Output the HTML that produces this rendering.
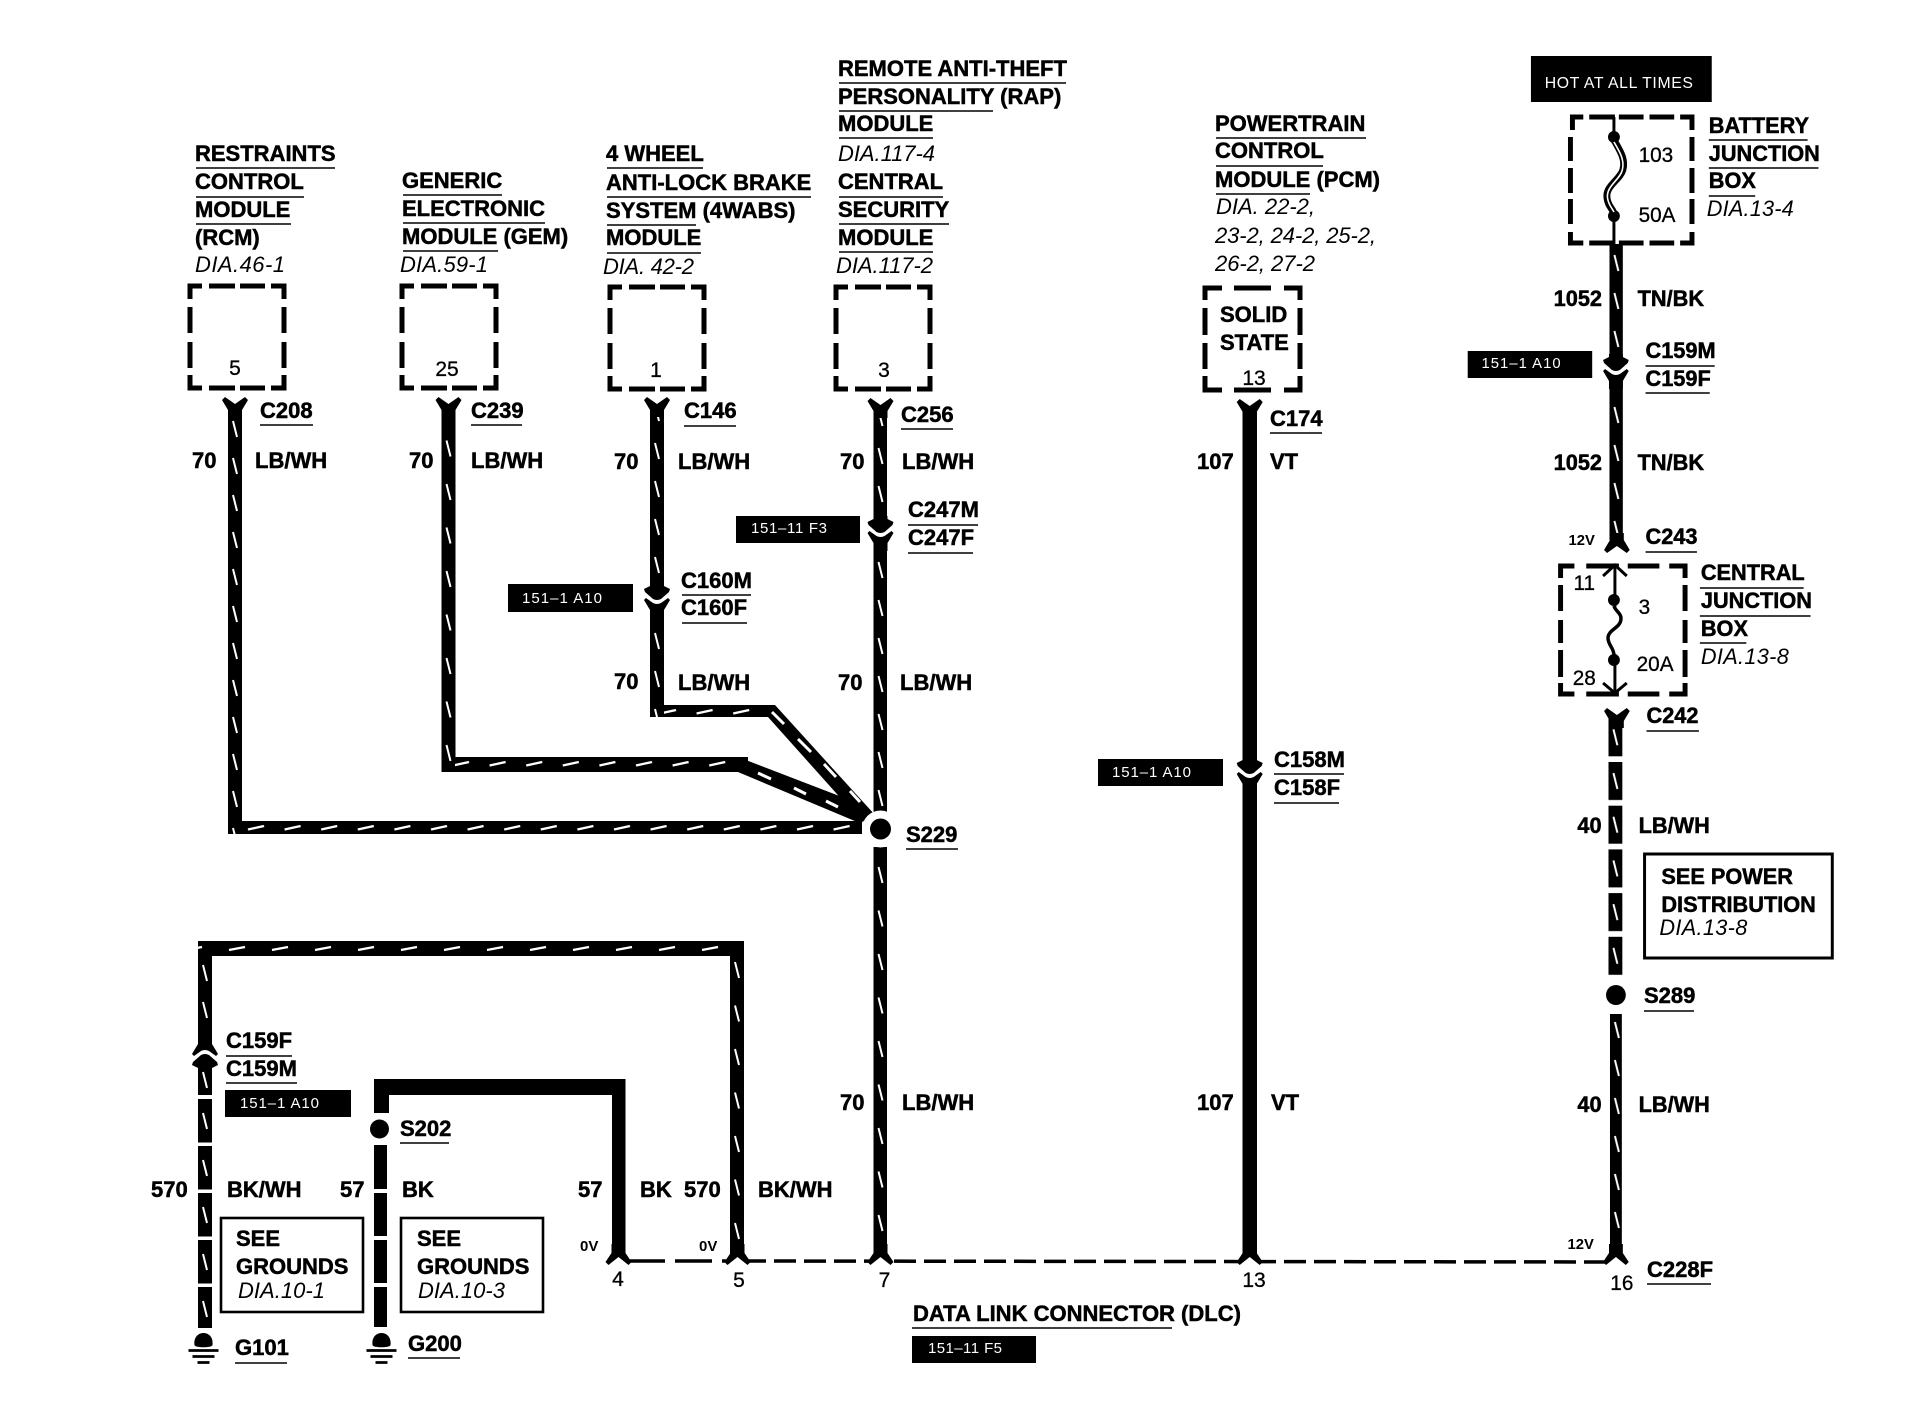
<!DOCTYPE html>
<html><head><meta charset="utf-8"><style>
html,body{margin:0;padding:0;background:#fff}
svg{display:block}
text{font-family:"Liberation Sans",sans-serif;fill:#000}
.b{font-weight:bold;font-size:22px;stroke:#000;stroke-width:.5}
.s{font-weight:bold;font-size:15px}
.i{font-style:italic;font-size:22px}
.r{font-size:21px;stroke:#000;stroke-width:.3}
.m{text-anchor:middle}
.w{fill:#fff;font-size:15px}
.u{fill:none;stroke:#000;stroke-width:1.6}
</style></head><body>
<svg width="1912" height="1408" viewBox="0 0 1912 1408" xmlns="http://www.w3.org/2000/svg">
<defs>
<pattern id="v37" width="20" height="37" patternUnits="userSpaceOnUse"><rect width="20" height="37" fill="#000"/><path d="M5 8L9 24" stroke="#fff" stroke-width="2"/></pattern>
<pattern id="v38" width="20" height="38" patternUnits="userSpaceOnUse"><rect width="20" height="38" fill="#000"/><path d="M5 8L9 24" stroke="#fff" stroke-width="2"/></pattern>
<pattern id="v44" width="20" height="43.5" patternUnits="userSpaceOnUse"><rect width="20" height="43.5" fill="#000"/><path d="M5 8L9 24" stroke="#fff" stroke-width="2"/></pattern>
<pattern id="d44" width="20" height="43.7" patternUnits="userSpaceOnUse"><rect width="20" height="38" fill="#000"/><path d="M5 11L9 27" stroke="#fff" stroke-width="2"/></pattern>
<pattern id="d47" width="20" height="47" patternUnits="userSpaceOnUse"><rect width="20" height="43.5" fill="#000"/><path d="M5 14L9 30" stroke="#fff" stroke-width="2"/></pattern>
<pattern id="h37" width="36.6" height="20" patternUnits="userSpaceOnUse"><rect width="36.6" height="20" fill="#000"/><path d="M8 8.5L24 5" stroke="#fff" stroke-width="2.4"/></pattern>
<pattern id="h43" width="43" height="20" patternUnits="userSpaceOnUse"><rect width="43" height="20" fill="#000"/><path d="M8 9L24 6" stroke="#fff" stroke-width="2.4"/></pattern>
<path id="f" d="M-13 3L-10 0L0 7L10 0L13 3L7 13V20H-7V13Z"/>
<g id="fe"><path d="M-11 -1L0 7L11 -1V-5H-11Z" fill="#fff"/><path d="M-13 2L-10 -1L0 7L10 -1L13 2L7 11V20H-7V11Z"/></g>
<g id="c"><rect x="-9" y="-9" width="18" height="14" fill="#fff"/><path d="M-7 -17V-14L-13 -11L-12 -8L-4 -1Q0 1 4 -1L12 -8L13 -11L7 -14V-17Z"/><path d="M-13 0L-11 -2L-4 3Q0 5 4 3L11 -2L13 0L7 10V18H-7V10Z"/></g>
<path id="box" fill="none" stroke="#000" stroke-width="5" d="M0 13V0H12M19 0H45M50 0H75M81 0H94V13M0 21V47M0 56V82M94 21V47M94 56V82M0 89V102H12M19 102H45M50 102H75M81 102H94V89"/>
<g id="gnd"><path d="M-9 12C-10 4 -5 0 0 0C5 0 10 4 9 12C9 15 -9 15 -9 12Z"/><path d="M-15 17.5H15M-11 23.5H11M-6 29.5H6" stroke="#000" stroke-width="2.8" fill="none"/></g>
</defs>

<!-- bottom dashed bus -->
<path d="M625 1261H730" stroke="#000" stroke-width="3.5" stroke-dasharray="37 10" stroke-dashoffset="-3" fill="none"/>
<path d="M744 1261L1620 1262" stroke="#000" stroke-width="3.5" stroke-dasharray="22 8" fill="none"/>

<!-- RCM wire -->
<g transform="translate(228,413)"><rect width="14" height="421" fill="url(#v37)"/></g>
<g transform="translate(240,821)"><rect width="622" height="13" fill="url(#h37)"/></g>
<use href="#f" x="235" y="397"/>
<!-- GEM wire -->
<g transform="translate(441.5,389)"><rect y="15" width="14" height="368" fill="url(#v44)"/></g>
<g transform="translate(445,757)"><rect x="10" width="293" height="15" fill="url(#h37)"/></g>
<use href="#f" x="448.5" y="397"/>
<polygon points="738,757 855,802 862,824 738,772"/>
<!-- 4WABS wire -->
<g transform="translate(650,397)"><rect y="12" width="14" height="308" fill="url(#v38)"/></g>
<g transform="translate(652,705)"><rect x="12" width="110" height="12" fill="url(#h37)"/></g>
<use href="#f" x="657" y="397"/>
<polygon points="768,705 775,705 875,815 862,822 768,717"/>
<use href="#c" x="657" y="600"/>
<path d="M772 712L784 724M798 739L811 752M824 764L836 777M850 791L860 802M758 773L771 779M794 788L806 794M826 801L838 807" stroke="#fff" stroke-width="3" fill="none"/>
<!-- RAP wire -->
<g transform="translate(873.5,402)"><rect y="8" width="13.5" height="410" fill="url(#v38)"/></g>
<g transform="translate(873.5,815.5)"><rect y="31.5" width="13.5" height="416" fill="url(#v44)"/></g>
<use href="#f" x="880.5" y="398"/>
<use href="#c" x="880.5" y="533"/>
<!-- S229 -->
<circle cx="880.5" cy="829" r="18.5" fill="#fff"/>
<circle cx="880.5" cy="829" r="10.5"/>
<!-- PCM wire -->
<rect x="1242.5" y="412" width="14.5" height="845"/>
<use href="#f" x="1249.7" y="399"/>
<use href="#c" x="1249.7" y="774"/>
<!-- BK / BK-WH loop -->
<g transform="translate(198,957)"><rect y="-9" width="14" height="95" fill="url(#v37)"/></g>
<g transform="translate(178,941)"><rect x="20" width="546" height="15" fill="url(#h43)"/></g>
<g transform="translate(730,954)"><rect width="14" height="300" fill="url(#v44)"/></g>
<rect x="730" y="941" width="14" height="15"/>
<g transform="translate(205,1054) scale(1,-1)"><use href="#c"/></g>
<rect x="198" y="1065" width="14" height="30"/>
<path d="M203 1072L207 1088" stroke="#fff" stroke-width="2"/>
<g transform="translate(198,1099)"><rect width="14" height="229" fill="url(#d47)"/></g>
<rect x="374" y="1079" width="251" height="16"/>
<rect x="374" y="1079" width="15" height="34"/>
<rect x="612" y="1079" width="13.5" height="176"/>
<circle cx="379.5" cy="1129" r="9.5"/>
<rect x="374" y="1145" width="13" height="44"/><rect x="374" y="1193" width="13" height="43"/><rect x="374" y="1240" width="13" height="43"/><rect x="374" y="1287" width="13" height="40"/>
<!-- wire ends -->
<g transform="translate(618.5,1264) scale(1,-1)"><use href="#fe"/></g>
<g transform="translate(737.5,1264) scale(1,-1)"><use href="#fe"/></g>
<g transform="translate(880.5,1264) scale(1,-1)"><use href="#fe"/></g>
<g transform="translate(1249.7,1264) scale(1,-1)"><use href="#fe"/></g>
<use href="#gnd" x="203.5" y="1333"/>
<use href="#gnd" x="381.5" y="1333"/>

<!-- dashed boxes -->
<use href="#box" x="190" y="286"/>
<use href="#box" x="402" y="286"/>
<use href="#box" x="610" y="287"/>
<use href="#box" x="836" y="287"/>
<path fill="none" stroke="#000" stroke-width="5" d="M1205 300V288H1222M1234 288H1271M1284 288H1300V300M1205 308V335M1205 343V369M1300 308V335M1300 343V369M1205 376V390H1222M1234 390H1271M1284 390H1300V376"/>

<!-- note boxes -->
<rect x="221" y="1218" width="142" height="94" fill="none" stroke="#000" stroke-width="2.6"/>
<rect x="401" y="1218" width="142" height="94" fill="none" stroke="#000" stroke-width="2.6"/>

<!-- black tags -->
<rect x="508" y="584" width="125" height="28"/><text class="w" x="522" y="603" textLength="80">151–1 A10</text>
<rect x="736" y="516" width="124" height="27"/><text class="w" x="751" y="533" textLength="76">151–11 F3</text>
<rect x="1098" y="759" width="125" height="27"/><text class="w" x="1112" y="777" textLength="79">151–1 A10</text>
<rect x="225" y="1090" width="126" height="27"/><text class="w" x="240" y="1108" textLength="79">151–1 A10</text>
<rect x="912" y="1336" width="124" height="27"/><text class="w" x="928" y="1353" textLength="74">151–11 F5</text>

<!-- underlines -->
<path class="u" d="M196 168H335M196 197H304M196 224H291M260 425H313M471 425H522
M403 195H502M403 223H545M403 251H498
M607 168H703M607 197H811M607 225H696M607 253H701M684 426H736
M839 83H1066M839 111H993M839 138H933M839 197H943M839 224H949M839 252H933M901 429H953
M1216 138H1366M1216 166H1323M1216 194H1310M1270 433H1322
M908 525H978M908 553H973M682 595H751M682 623H747M906 849H958
M1274 774H1344M1274 803H1339M1644 1011H1694M1647 1284H1711
M226 1056H292M226 1083H297M400 1143H449M235 1363H287M408 1358H460M912 1328H1172"/>

<!-- module headers -->
<g style="transform:translateX(-1px)">
<text class="b" x="196" y="161">RESTRAINTS</text>
<text class="b" x="196" y="189">CONTROL</text>
<text class="b" x="196" y="217">MODULE</text>
<text class="b" x="196" y="245">(RCM)</text>
<text class="b" x="403" y="188">GENERIC</text>
<text class="b" x="403" y="216">ELECTRONIC</text>
<text class="b" x="403" y="244">MODULE (GEM)</text>
<text class="b" x="607" y="161">4 WHEEL</text>
<text class="b" x="607" y="190">ANTI-LOCK BRAKE</text>
<text class="b" x="607" y="218">SYSTEM (4WABS)</text>
<text class="b" x="607" y="245">MODULE</text>
<text class="b" x="839" y="76">REMOTE ANTI-THEFT</text>
<text class="b" x="839" y="104">PERSONALITY (RAP)</text>
<text class="b" x="839" y="131">MODULE</text>
<text class="b" x="839" y="189">CENTRAL</text>
<text class="b" x="839" y="217">SECURITY</text>
<text class="b" x="839" y="245">MODULE</text>
<text class="b" x="1216" y="131">POWERTRAIN</text>
<text class="b" x="1216" y="158">CONTROL</text>
<text class="b" x="1216" y="187">MODULE (PCM)</text>
<text class="b" x="1221" y="322">SOLID</text>
<text class="b" x="1221" y="350">STATE</text>
<text class="b" x="237" y="1246">SEE</text>
<text class="b" x="237" y="1274">GROUNDS</text>
<text class="b" x="418" y="1246">SEE</text>
<text class="b" x="418" y="1274">GROUNDS</text>
<text class="b" x="914" y="1321">DATA LINK CONNECTOR (DLC)</text>
</g>

<!-- italic references -->
<text class="i" x="195" y="272" textLength="90">DIA.46-1</text>
<text class="i" x="400" y="272" textLength="88">DIA.59-1</text>
<text class="i" x="603" y="274" textLength="91">DIA. 42-2</text>
<text class="i" x="838" y="161" textLength="97">DIA.117-4</text>
<text class="i" x="836" y="273" textLength="97">DIA.117-2</text>
<text class="i" x="1216" y="214" textLength="99">DIA. 22-2,</text>
<text class="i" x="1215" y="243" textLength="161">23-2, 24-2, 25-2,</text>
<text class="i" x="1215" y="271" textLength="100">26-2, 27-2</text>
<text class="i" x="238" y="1298" textLength="87">DIA.10-1</text>
<text class="i" x="418" y="1298" textLength="87">DIA.10-3</text>

<!-- pin numbers and labels -->
<text class="r m" x="235" y="375">5</text>
<text class="b" x="260" y="418">C208</text>
<text class="b" x="192" y="468">70</text>
<text class="b" x="255" y="468">LB/WH</text>
<text class="r m" x="447" y="376">25</text>
<text class="b" x="471" y="418">C239</text>
<text class="b" x="409" y="468">70</text>
<text class="b" x="471" y="468">LB/WH</text>
<text class="r m" x="656" y="377">1</text>
<text class="b" x="684" y="418">C146</text>
<text class="b" x="614" y="469">70</text>
<text class="b" x="678" y="469">LB/WH</text>
<text class="b" x="681" y="588">C160M</text>
<text class="b" x="681" y="615">C160F</text>
<text class="b" x="614" y="689">70</text>
<text class="b" x="678" y="690">LB/WH</text>
<text class="r m" x="884" y="377">3</text>
<text class="b" x="901" y="422">C256</text>
<text class="b" x="840" y="469">70</text>
<text class="b" x="902" y="469">LB/WH</text>
<text class="b" x="908" y="517">C247M</text>
<text class="b" x="908" y="545">C247F</text>
<text class="b" x="838" y="690">70</text>
<text class="b" x="900" y="690">LB/WH</text>
<text class="b" x="906" y="842">S229</text>
<text class="b" x="840" y="1110">70</text>
<text class="b" x="902" y="1110">LB/WH</text>
<text class="r m" x="1254" y="385">13</text>
<text class="b" x="1270" y="426">C174</text>
<text class="b" x="1197" y="469">107</text>
<text class="b" x="1270" y="469">VT</text>
<text class="b" x="1274" y="767">C158M</text>
<text class="b" x="1274" y="795">C158F</text>
<text class="b" x="1197" y="1110">107</text>
<text class="b" x="1271" y="1110">VT</text>
<text class="b" x="226" y="1048">C159F</text>
<text class="b" x="226" y="1076">C159M</text>
<text class="b" x="400" y="1136">S202</text>
<text class="b" x="151" y="1197">570</text>
<text class="b" x="227" y="1197">BK/WH</text>
<text class="b" x="340" y="1197">57</text>
<text class="b" x="402" y="1197">BK</text>
<text class="b" x="578" y="1197">57</text>
<text class="b" x="640" y="1197">BK</text>
<text class="b" x="684" y="1197">570</text>
<text class="b" x="758" y="1197">BK/WH</text>
<text class="s" x="580" y="1251">0V</text>
<text class="s" x="699" y="1251">0V</text>
<text class="r m" x="618" y="1286">4</text>
<text class="r m" x="739" y="1287">5</text>
<text class="r m" x="884.5" y="1287">7</text>
<text class="r m" x="1254" y="1287">13</text>
<text class="b" x="235" y="1355">G101</text>
<text class="b" x="408" y="1351">G200</text>
<text class="b" x="1644" y="1003">S289</text>
<text class="b" x="1647" y="1277">C228F</text>

<!-- right column -->
<g transform="translate(1279,0) scale(.988,1) translate(-1280,0)">
<g transform="translate(1614.5,247)"><rect y="-3" width="13.5" height="296" fill="url(#v38)"/></g>
<use href="#c" x="1621" y="371"/>
<g transform="translate(1622,553) scale(1,-1)"><use href="#f"/></g>
<use href="#f" x="1622" y="708"/>
<g transform="translate(1613.5,762)"><rect y="-43.7" width="14" height="258.7" fill="url(#d44)"/></g>
<circle cx="1621" cy="995" r="10"/>
<g transform="translate(1615,1014)"><rect width="12" height="240" fill="url(#v38)"/></g>
<g transform="translate(1621,1264) scale(1,-1)"><use href="#fe"/></g>
<path fill="none" stroke="#000" stroke-width="5" d="M1577 130V117H1588M1594 117H1620M1624 117H1649M1655 117H1680M1686 117H1698V130M1575 137V161M1575 168V193M1575 199V224M1698 137V161M1698 168V193M1698 199V224M1575 232V243H1588M1594 243H1620M1624 243H1649M1655 243H1680M1686 243H1698V232"/>
<path fill="none" stroke="#000" stroke-width="5" d="M1565 578V566H1579M1591 566H1624M1633 566H1665M1675 566H1691V578M1565 585V611M1565 620V643M1565 650V677M1691 585V611M1691 620V643M1691 650V677M1565 683V694H1579M1591 694H1624M1633 694H1665M1675 694H1691V683"/>
<path d="M1619 117V137M1619 216V244" stroke="#000" stroke-width="3" fill="none"/>
<circle cx="1619" cy="137" r="6"/><circle cx="1619" cy="216" r="6"/>
<path d="M1619 140C1626 152 1631 160 1628 170C1625 180 1610 186 1612 198C1613 206 1617 208 1619 213" stroke="#000" stroke-width="7" fill="none"/>
<path d="M1619 142C1625 152 1630 160 1627.5 170C1625 180 1611 186 1612.5 198C1613.5 205 1617 208 1619 212" stroke="#fff" stroke-width="1.6" fill="none"/>
<path d="M1620 566V693M1608 576L1620 565L1632 576M1608 683L1620 693L1632 683" stroke="#000" stroke-width="3" fill="none"/>
<circle cx="1619" cy="600" r="6"/><circle cx="1619" cy="660" r="6"/>
<rect x="1612" y="607" width="14" height="47" fill="#fff"/>
<path d="M1619 606C1621 612 1627 613 1626 620C1625 628 1613 630 1613 638C1613 645 1619 648 1619 655" stroke="#000" stroke-width="3.5" fill="none"/>
<rect x="1650" y="854" width="190" height="104" fill="none" stroke="#000" stroke-width="3"/>
<rect x="1535" y="56" width="183" height="46"/>
<text class="w" x="1549" y="88" textLength="150" style="font-size:16px">HOT AT ALL TIMES</text>
<rect x="1471" y="351" width="126" height="27"/><text class="w" x="1485" y="368" textLength="80">151–1 A10</text>
<path class="u" d="M1715 140H1815M1715 168H1826M1715 196H1762M1651 366H1721M1651 393H1716M1651 552H1703M1706 588H1811M1706 616H1818M1706 643H1753M1652 731H1705"/>
<text class="b" x="1715" y="133">BATTERY</text>
<text class="b" x="1715" y="161">JUNCTION</text>
<text class="b" x="1715" y="188">BOX</text>
<text class="i" x="1713" y="216" textLength="88">DIA.13-4</text>
<text class="r" x="1644" y="162">103</text>
<text class="r" x="1644" y="222">50A</text>
<text class="b" x="1558" y="306">1052</text>
<text class="b" x="1643" y="306">TN/BK</text>
<text class="b" x="1651" y="358">C159M</text>
<text class="b" x="1651" y="386">C159F</text>
<text class="b" x="1558" y="470">1052</text>
<text class="b" x="1643" y="470">TN/BK</text>
<text class="s" x="1573" y="545">12V</text>
<text class="b" x="1651" y="544">C243</text>
<text class="b" x="1707" y="580">CENTRAL</text>
<text class="b" x="1707" y="608">JUNCTION</text>
<text class="b" x="1707" y="636">BOX</text>
<text class="i" x="1707" y="664" textLength="89">DIA.13-8</text>
<text class="r m" x="1589" y="590">11</text>
<text class="r" x="1644" y="614">3</text>
<text class="r" x="1642" y="671">20A</text>
<text class="r m" x="1589" y="685">28</text>
<text class="b" x="1652" y="723">C242</text>
<text class="b" x="1582" y="833">40</text>
<text class="b" x="1644" y="833">LB/WH</text>
<text class="b" x="1667" y="884">SEE POWER</text>
<text class="b" x="1667" y="912">DISTRIBUTION</text>
<text class="i" x="1665" y="935" textLength="89">DIA.13-8</text>
<text class="b" x="1582" y="1112">40</text>
<text class="b" x="1644" y="1112">LB/WH</text>
<text class="s" x="1572" y="1249">12V</text>
<text class="r m" x="1627" y="1290">16</text>
</g>
</svg>
</body></html>
